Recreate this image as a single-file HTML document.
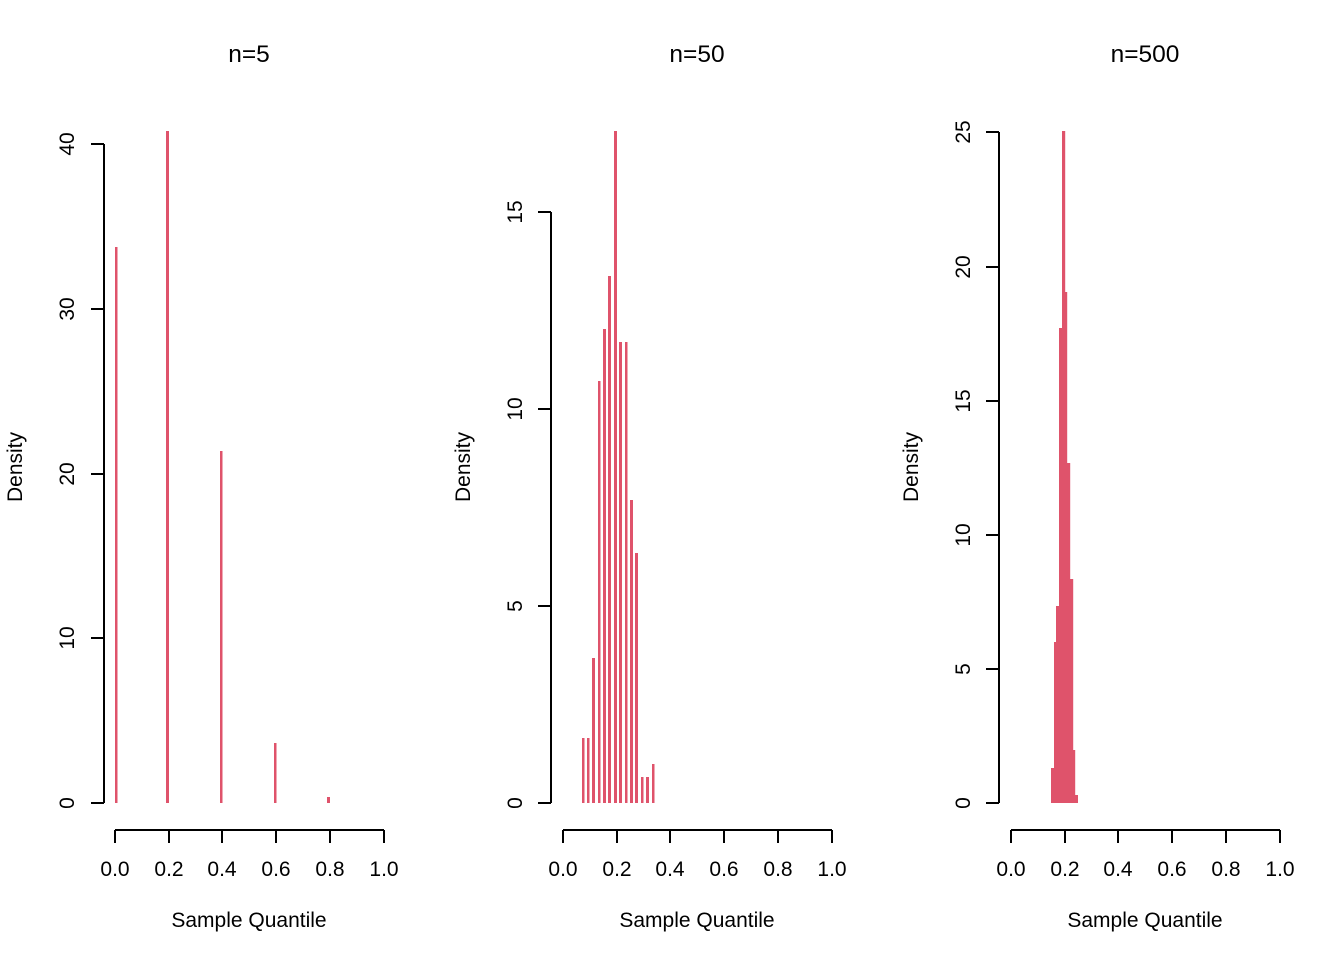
<!DOCTYPE html>
<html><head><style>body{margin:0;background:#fff}svg{display:block}text{font-family:"Liberation Sans",Arial,sans-serif;fill:#000}</style></head>
<body>
<svg width="1344" height="960" viewBox="0 0 1344 960" xmlns="http://www.w3.org/2000/svg">
<g fill="#DF536B">
<rect x="115" y="247" width="2.5" height="556"/>
<rect x="166" y="131" width="3" height="672"/>
<rect x="220" y="451" width="2.5" height="352"/>
<rect x="274" y="743" width="2.5" height="60"/>
<rect x="327" y="797" width="3" height="6"/>
<rect x="582" y="738" width="2.5" height="65"/>
<rect x="587" y="738" width="2.5" height="65"/>
<rect x="592" y="658" width="3" height="145"/>
<rect x="598" y="381" width="2.5" height="422"/>
<rect x="603" y="329" width="3" height="474"/>
<rect x="608" y="276" width="3" height="527"/>
<rect x="614" y="131" width="3" height="672"/>
<rect x="619" y="342" width="3" height="461"/>
<rect x="625" y="342" width="2.5" height="461"/>
<rect x="630" y="500" width="3" height="303"/>
<rect x="635" y="553" width="3" height="250"/>
<rect x="641" y="777" width="2.5" height="26"/>
<rect x="646" y="777" width="3" height="26"/>
<rect x="652" y="764" width="2.5" height="39"/>
<rect x="1051" y="768" width="3.2" height="35"/>
<rect x="1054" y="642" width="2.2" height="161"/>
<rect x="1056" y="606" width="3.2" height="197"/>
<rect x="1059" y="328" width="3.2" height="475"/>
<rect x="1062" y="131" width="3.2" height="672"/>
<rect x="1065" y="292" width="2.2" height="511"/>
<rect x="1067" y="463" width="3.2" height="340"/>
<rect x="1070" y="579" width="3.2" height="224"/>
<rect x="1073" y="750" width="2.2" height="53"/>
<rect x="1075" y="795" width="3" height="8"/>
</g>
<g stroke="#000" stroke-width="2" fill="none">
<path d="M104 144V803M91 144H104M91 309H104M91 474H104M91 638H104M91 803H104"/>
<path d="M115 830H384M115 830V843M169 830V843M222 830V843M276 830V843M330 830V843M384 830V843"/>
<path d="M551 212V803M538 212H551M538 409H551M538 606H551M538 803H551"/>
<path d="M563 830H832M563 830V843M617 830V843M670 830V843M724 830V843M778 830V843M832 830V843"/>
<path d="M999 132V803M986 132H999M986 267H999M986 401H999M986 535H999M986 669H999M986 803H999"/>
<path d="M1011 830H1280M1011 830V843M1065 830V843M1118 830V843M1172 830V843M1226 830V843M1280 830V843"/>
</g>
<g text-anchor="middle" style="font-size:21px">
<g style="font-size:24.5px">
<text x="249" y="62">n=5</text>
<text x="697" y="62">n=50</text>
<text x="1145" y="62">n=500</text>
</g>
<text x="249" y="927">Sample Quantile</text>
<text x="697" y="927">Sample Quantile</text>
<text x="1145" y="927">Sample Quantile</text>
<text transform="translate(22,467) rotate(-90)">Density</text>
<text transform="translate(470,467) rotate(-90)">Density</text>
<text transform="translate(918,467) rotate(-90)">Density</text>
<g>
<text x="115" y="876">0.0</text><text x="169" y="876">0.2</text><text x="222" y="876">0.4</text><text x="276" y="876">0.6</text><text x="330" y="876">0.8</text><text x="384" y="876">1.0</text>
<text x="563" y="876">0.0</text><text x="617" y="876">0.2</text><text x="670" y="876">0.4</text><text x="724" y="876">0.6</text><text x="778" y="876">0.8</text><text x="832" y="876">1.0</text>
<text x="1011" y="876">0.0</text><text x="1065" y="876">0.2</text><text x="1118" y="876">0.4</text><text x="1172" y="876">0.6</text><text x="1226" y="876">0.8</text><text x="1280" y="876">1.0</text>
</g>
<text transform="translate(74,803) rotate(-90)">0</text>
<text transform="translate(74,638) rotate(-90)">10</text>
<text transform="translate(74,474) rotate(-90)">20</text>
<text transform="translate(74,309) rotate(-90)">30</text>
<text transform="translate(74,144) rotate(-90)">40</text>
<text transform="translate(522,803) rotate(-90)">0</text>
<text transform="translate(522,606) rotate(-90)">5</text>
<text transform="translate(522,409) rotate(-90)">10</text>
<text transform="translate(522,212) rotate(-90)">15</text>
<text transform="translate(970,803) rotate(-90)">0</text>
<text transform="translate(970,669) rotate(-90)">5</text>
<text transform="translate(970,535) rotate(-90)">10</text>
<text transform="translate(970,401) rotate(-90)">15</text>
<text transform="translate(970,267) rotate(-90)">20</text>
<text transform="translate(970,132) rotate(-90)">25</text>
</g>
</svg>
</body></html>
